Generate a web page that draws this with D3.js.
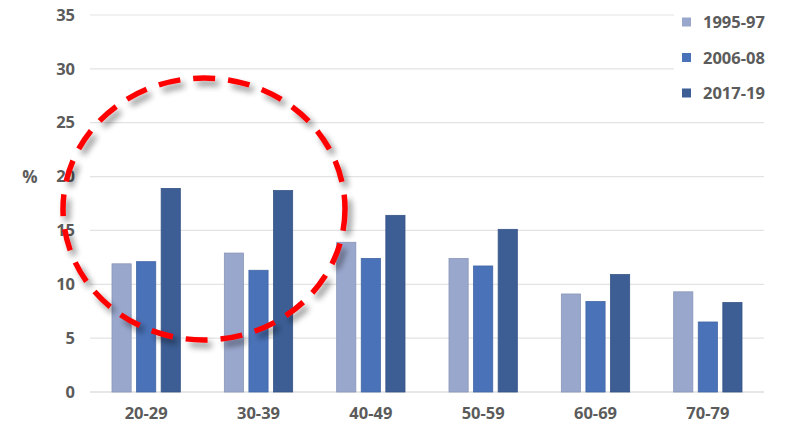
<!DOCTYPE html>
<html>
<head>
<meta charset="utf-8">
<script src="https://cdn.jsdelivr.net/npm/d3@7"></script>
<style>
  body { margin: 0; background: #fff; }
  svg { display: block; font-family: "Open Sans", "Liberation Sans", sans-serif; }
</style>
</head>
<body>
<svg width="786" height="428"></svg>
<script>
var ageGroups = ["20-29", "30-39", "40-49", "50-59", "60-69", "70-79"];
var periods = ["1995-97", "2006-08", "2017-19"];
var values1995 = [11.9, 12.9, 13.9, 12.4, 9.1, 9.3];
var values2006 = [12.1, 11.3, 12.4, 11.7, 8.4, 6.5];
var values2017 = [18.9, 18.7, 16.4, 15.1, 10.9, 8.3];
var yTicks = [0, 5, 10, 15, 20, 25, 30, 35];
var barColors = ["#9AA7CD", "#4A72B8", "#3C5E95"];

var series = [values1995, values2006, values2017];

var svg = d3.select("svg");
var mLeft = 90, mRight = 764, mTop = 15, mBottom = 392;

var x = d3.scaleBand().domain(ageGroups).range([mLeft, mRight]).paddingInner(0).paddingOuter(0);
var xInner = d3.scaleBand().domain(periods).range([22, x.bandwidth() - 22]).paddingInner(0.22);
var y = d3.scaleLinear().domain([0, 35]).range([mBottom, mTop]);

// gridlines
svg.append("g").selectAll("line")
  .data(yTicks)
  .enter().append("line")
    .attr("x1", mLeft).attr("x2", mRight)
    .attr("y1", function(d) { return y(d); })
    .attr("y2", function(d) { return y(d); })
    .attr("stroke", function(d) { return d == 0 ? "#d0d0d0" : "#e3e3e3"; })
    .attr("stroke-width", 1.2);

// y tick labels
var yAxis = svg.append("g")
  .attr("transform", "translate(" + (mLeft - 15) + ",0)")
  .call(d3.axisLeft(y).tickValues(yTicks).tickSize(0).tickPadding(0));
yAxis.select(".domain").remove();
yAxis.selectAll("text")
  .attr("font-size", 16.5).attr("font-weight", "bold").attr("fill", "#5b5b5b")
  .style("font-family", "'Open Sans', sans-serif");

svg.append("text")
  .attr("x", 30).attr("y", y(20) + 6)
  .attr("text-anchor", "middle")
  .attr("font-size", 17).attr("font-weight", "bold").attr("fill", "#5b5b5b")
  .text("%");

// x labels
var xAxis = svg.append("g")
  .attr("transform", "translate(0," + (mBottom + 15) + ")")
  .call(d3.axisBottom(x).tickSize(0).tickPadding(0));
xAxis.select(".domain").remove();
xAxis.selectAll("text")
  .attr("font-size", 16.5).attr("font-weight", "bold").attr("fill", "#5b5b5b")
  .style("font-family", "'Open Sans', sans-serif");

// bars
var groups = svg.append("g").selectAll("g")
  .data(ageGroups)
  .enter().append("g")
    .attr("transform", function(d) { return "translate(" + x(d) + ",0)"; });

groups.selectAll("rect")
  .data(function(d, i) {
    return periods.map(function(p, j) { return { period: p, value: series[j][i], k: j }; });
  })
  .enter().append("rect")
    .attr("x", function(d) { return xInner(d.period); })
    .attr("width", xInner.bandwidth())
    .attr("y", function(d) { return y(d.value); })
    .attr("height", function(d) { return y(0) - y(d.value); })
    .attr("fill", function(d) { return barColors[d.k]; })
    .attr("stroke", function(d) { return d3.color(barColors[d.k]).darker(0.3); })
    .attr("stroke-width", 0.8);

// legend (white box over gridlines)
svg.append("rect")
  .attr("x", 674).attr("y", 5).attr("width", 112).attr("height", 100)
  .attr("fill", "#fff");
var legend = svg.append("g").selectAll("g")
  .data(periods)
  .enter().append("g")
    .attr("transform", function(d, i) { return "translate(682," + (22 + i * 35.5) + ")"; });
legend.append("rect")
  .attr("x", 0).attr("y", -4.5).attr("width", 9).attr("height", 9)
  .attr("fill", function(d, i) { return barColors[i]; });
legend.append("text")
  .attr("x", 21).attr("y", 6)
  .attr("font-size", 16.5).attr("font-weight", "bold").attr("fill", "#5b5b5b")
  .text(function(d) { return d; });

// red dashed annotation circle with soft shadow
var defs = svg.append("defs");
var f = defs.append("filter").attr("id", "shadow")
  .attr("x", "-20%").attr("y", "-20%").attr("width", "140%").attr("height", "140%");
f.append("feGaussianBlur").attr("in", "SourceAlpha").attr("stdDeviation", 3).attr("result", "blur");
f.append("feOffset").attr("in", "blur").attr("dx", 4).attr("dy", 5).attr("result", "off");
f.append("feComponentTransfer").attr("in", "off").attr("result", "soft")
  .append("feFuncA").attr("type", "linear").attr("slope", 0.45);
var m = f.append("feMerge");
m.append("feMergeNode").attr("in", "soft");
m.append("feMergeNode").attr("in", "SourceGraphic");

svg.append("ellipse")
  .attr("cx", 204).attr("cy", 209)
  .attr("rx", 141).attr("ry", 131)
  .attr("fill", "none")
  .attr("stroke", "#ff0000")
  .attr("stroke-width", 5.5)
  .attr("stroke-dasharray", "22 13")
  .attr("filter", "url(#shadow)");
</script>
</body>
</html>
